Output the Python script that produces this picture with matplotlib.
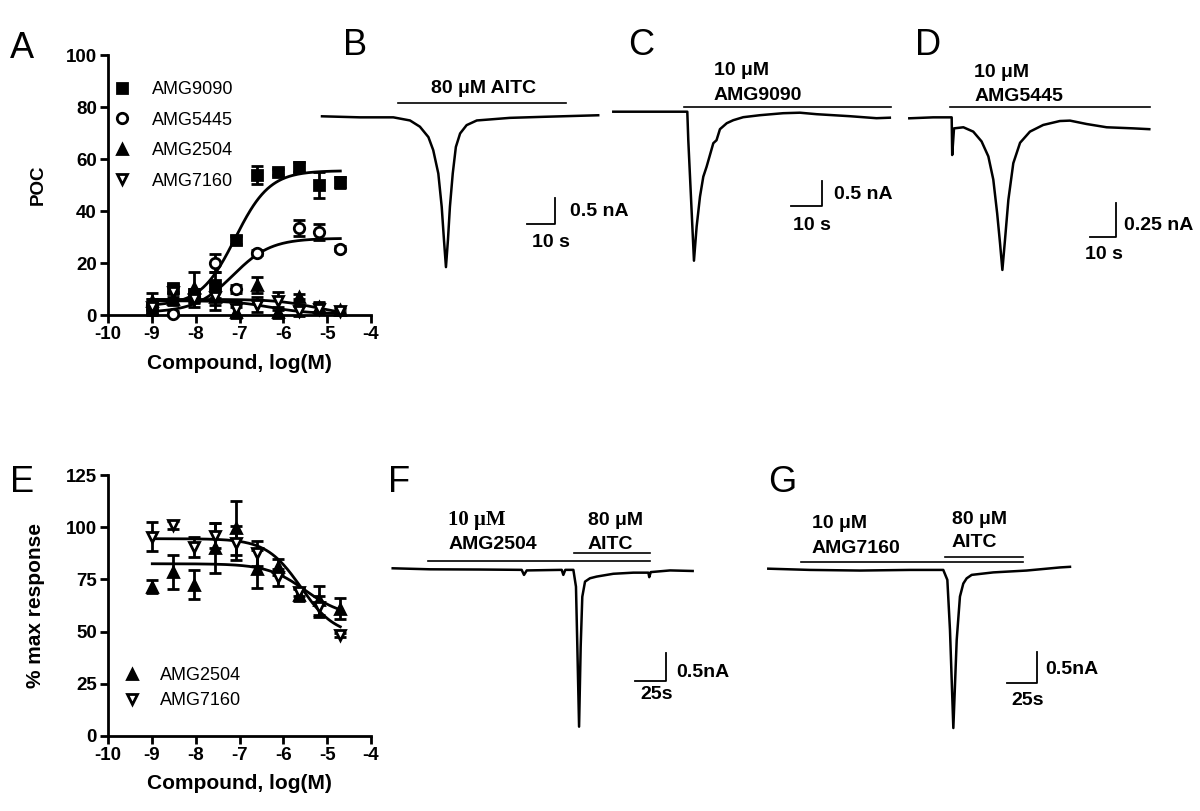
import matplotlib.pyplot as plt
import numpy as np

plt.rcParams['font.family'] = ['Liberation Sans', 'DejaVu Sans']
plt.rcParams['axes.unicode_minus'] = False

W, H = 1200, 811

# ---- concentration-response data (panels A and E) ----
log_conc = [-8.99, -8.51, -8.04, -7.56, -7.08, -6.61, -6.13, -5.65, -5.18, -4.70]

poc_9090 = [2.5, 10.5, 8, 11.5, 29, 54, 55, 57, 50, 51]
err_9090 = [2, 1.5, 2, 5, 1.5, 3.5, 1, 2, 5, 2]
poc_5445 = [4, 0.5, 7, 20, 10, 24, np.nan, 33.5, 32, 25.5]
err_5445 = [2, 1, 2, 3.5, 1.5, 1, 0, 3, 3, 1]
poc_2504 = [5.5, 6, 10.5, 7, 1, 11.5, 1, 7, 3, 2]
err_2504 = [3, 2, 6, 3, 2, 3, 2, 1, 2, 1]
poc_7160 = [3, 9, 6, 7, 2.5, 4, 5.5, 1.5, 2.5, 1.5]
err_7160 = [3, 2, 3, 5, 3, 3, 3.5, 2, 2, 1]

# fitted curves: (bottom, top, logEC50, hill)
fit_9090 = (3.5, 55.5, -7.1, 1.1)
fit_5445 = (1, 29.5, -7.15, 1.0)
fit_2504 = (0, 6, -5.3, -1.0)
fit_7160 = (0.5, 5.5, -6.3, -1.0)

resp_2504 = [71.5, 78.5, 72.5, 90, 99.5, 80, 81, 67.5, 65, 61]
rerr_2504 = [3, 8, 7, 12, 13, 9, 4, 3, 7, 5]
resp_7160 = [95.5, 101, 90.5, 96, 92.5, 87.5, 76, 69, 62, 48.5]
rerr_7160 = [7, 2, 5, 6, 8, 6, 4, 2, 5, 1]
rfit_2504 = (57, 82.5, -5.5, -1.0)
rfit_7160 = (48, 94.5, -5.6, -1.1)

# ---- current traces (time in s, current in nA) ----
B_t = [0, 13.4, 25.2, 31.1, 34.6, 37.6, 39.3, 41.1, 42.3, 43.1, 43.8, 44.5, 45.2,
       46.2, 47.3, 48.8, 51.1, 54.7, 59.4, 66.4, 78.2, 97.6]
B_i = [0, -0.02, -0.02, -0.08, -0.2, -0.4, -0.65, -1.1, -1.74, -2.38, -2.9, -2.38,
       -1.74, -1.1, -0.59, -0.33, -0.17, -0.08, -0.06, -0.03, -0.01, 0.02]

C_t = [0, 23.87, 24.19, 24.95, 26.02, 26.88, 27.96, 29.03, 30.1, 32.26, 33.3, 34.4,
       36.6, 38.7, 41.9, 47.3, 54.8, 60.2, 65.6, 76.3, 84.9, 89.2]
C_i = [0, 0, -0.57, -1.57, -2.98, -2.3, -1.7, -1.3, -1.1, -0.63, -0.57, -0.35,
       -0.23, -0.17, -0.11, -0.07, -0.03, -0.02, -0.05, -0.09, -0.13, -0.12]

D_t = [0, 9.2, 16.3, 16.5, 17.2, 20.8, 24.6, 27.8, 30.4, 32.3, 33.8, 34.9, 35.8,
       36.8, 38.1, 40.0, 42.6, 46.4, 51.5, 57.9, 61.8, 68.2, 75.9, 86.2, 92.3]
D_i = [0, 0.007, 0.007, -0.27, -0.074, -0.066, -0.098, -0.17, -0.28, -0.45, -0.7,
       -0.92, -1.115, -0.895, -0.6, -0.33, -0.18, -0.098, -0.049, -0.02, -0.017,
       -0.042, -0.066, -0.074, -0.08]

F_t = [0, 30.1, 70.4, 104, 105.9, 108.1, 136.3, 137.6, 139.2, 145.7, 147.8, 148.9,
       150.3, 151.6, 152.9, 155.1, 159.1, 164.5, 177.9, 194.1, 206.2, 206.9, 208.1,
       223.7, 241.9]
F_i = [0.018, 0, -0.004, -0.01, -0.1, -0.02, -0.01, -0.1, -0.01, -0.01, -0.31, -1.38,
       -2.81, -1.38, -0.49, -0.22, -0.16, -0.13, -0.08, -0.06, -0.06, -0.14, -0.05,
       -0.02, -0.03]

G_t = [0, 34.7, 76.4, 118.1, 145.8, 149.2, 151.4, 154.2, 157, 159.7, 162.5, 165.3,
       169.5, 187.5, 215.3, 232, 243, 251.4]
G_i = [0.01, -0.01, -0.02, -0.01, -0.01, -0.17, -0.98, -2.56, -1.14, -0.44, -0.23,
       -0.146, -0.09, -0.05, -0.02, 0.01, 0.03, 0.04]


def logistic(x, p):
    bottom, top, logec50, hill = p
    return bottom + (top - bottom) / (1 + 10 ** ((logec50 - x) * hill))


fig = plt.figure(figsize=(12, 8.11), dpi=100)


def style_axes(ax):
    for s in ['top', 'right']:
        ax.spines[s].set_visible(False)
    for s in ['left', 'bottom']:
        ax.spines[s].set_linewidth(2)
    ax.tick_params(direction='out', length=6, width=2, labelsize=13.5, pad=2)
    plt.setp(ax.get_xticklabels() + ax.get_yticklabels(), fontweight='bold')


def dose_series(ax, y, err, fit, marker, filled):
    eb = ax.errorbar(log_conc, y, yerr=err, fmt=marker, ms=7.5,
                     mfc='black' if filled else 'white', mec='black', mew=2,
                     ecolor='black', elinewidth=2, capsize=4, capthick=2, zorder=3)
    for a in [eb[0], *eb[1], *eb[2]]:
        a.set_clip_on(False)
    xs = np.linspace(log_conc[0], log_conc[-1], 200)
    ax.plot(xs, logistic(xs, fit), color='black', lw=2, zorder=2)
    return eb[0]


# ---- Panel A ----
axA = fig.add_axes([108 / W, 1 - 315 / H, 263 / W, 260 / H])
h1 = dose_series(axA, poc_9090, err_9090, fit_9090, 's', True)
h2 = dose_series(axA, poc_5445, err_5445, fit_5445, 'o', False)
h3 = dose_series(axA, poc_2504, err_2504, fit_2504, '^', True)
h4 = dose_series(axA, poc_7160, err_7160, fit_7160, 'v', False)
axA.set_xlim(-10, -4)
axA.set_ylim(0, 100)
axA.set_xticks(np.arange(-10, -3, 1))
axA.set_yticks(np.arange(0, 101, 20))
style_axes(axA)
axA.set_xlabel('Compound, log(M)', fontsize=15, fontweight='bold')
axA.xaxis.set_label_coords(0.5, -0.15)
axA.set_ylabel('POC', fontsize=13.5, fontweight='bold')
axA.yaxis.set_label_coords(-0.232, 0.5)
axA.legend([h1, h2, h3, h4], ['AMG9090', 'AMG5445', 'AMG2504', 'AMG7160'],
           loc='upper left', bbox_to_anchor=(0.019, 0.9), frameon=False,
           fontsize=13, handlelength=1.0, handletextpad=1.17, labelspacing=0.75,
           borderpad=0, borderaxespad=0)

# ---- Panel E ----
axE = fig.add_axes([108 / W, 1 - 736 / H, 263 / W, 261 / H])
e1 = dose_series(axE, resp_2504, rerr_2504, rfit_2504, '^', True)
e2 = dose_series(axE, resp_7160, rerr_7160, rfit_7160, 'v', False)
axE.set_xlim(-10, -4)
axE.set_ylim(0, 125)
axE.set_xticks(np.arange(-10, -3, 1))
axE.set_yticks(np.arange(0, 126, 25))
style_axes(axE)
axE.set_xlabel('Compound, log(M)', fontsize=15, fontweight='bold')
axE.xaxis.set_label_coords(0.5, -0.145)
axE.set_ylabel('% max response', fontsize=15, fontweight='bold')
axE.yaxis.set_label_coords(-0.24, 0.5)
axE.legend([e1, e2], ['AMG2504', 'AMG7160'], loc='upper left',
           bbox_to_anchor=(0.057, 0.265), frameon=False, fontsize=13,
           handlelength=1.0, handletextpad=1.06, labelspacing=0.45,
           borderpad=0, borderaxespad=0)


# ---- trace panels ----
def trace_axes(box, origin, scale):
    left, top, right, bottom = box
    x0, y0 = origin
    sx, sy = scale
    ax = fig.add_axes([left / W, 1 - bottom / H, (right - left) / W, (bottom - top) / H])
    ax.set_xlim((left - x0) / sx, (right - x0) / sx)
    ax.set_ylim((y0 - bottom) / sy, (y0 - top) / sy)
    ax.axis('off')
    return ax


def scale_bar(ax, t, i, dt, di, amp_lab, amp_pos, time_lab, time_pos):
    ax.plot([t, t + dt, t + dt], [i, i, i + di], color='black', lw=1.3)
    ax.text(*amp_pos, amp_lab, fontsize=14, fontweight='bold', ha='left', va='center')
    ax.text(*time_pos, time_lab, fontsize=14, fontweight='bold', ha='left', va='center')


tkw = dict(fontsize=14, fontweight='bold')
trace_lw = 1.8

# B
axB = trace_axes((310, 60, 610, 300), (322, 116.3), (2.83, 52))
axB.plot(B_t, B_i, color='black', lw=trace_lw)
axB.plot([27, 86.2], [0.26, 0.26], color='black', lw=1.2)
axB.text(57, 0.53, '80 μM AITC', ha='center', va='center', **tkw)
scale_bar(axB, 72.3, -2.08, 10, 0.5, '0.5 nA', (87.6, -1.84), '10 s', (74.1, -2.42))

# C
axC = trace_axes((600, 50, 905, 300), (613.3, 111.7), (3.1, 50))
axC.plot(C_t, C_i, color='black', lw=trace_lw)
axC.plot([22.8, 89.5], [0.09, 0.09], color='black', lw=1.2)
axC.text(32.5, 0.83, '10 μM', ha='left', va='center', **tkw)
axC.text(32.3, 0.33, 'AMG9090', ha='left', va='center', **tkw)
scale_bar(axC, 57.2, -1.88, 10, 0.5, '0.5 nA', (71.2, -1.65), '10 s', (58.1, -2.27))

# D
axD = trace_axes((900, 50, 1200, 300), (909.3, 118.3), (2.6, 136))
axD.plot(D_t, D_i, color='black', lw=trace_lw)
axD.plot([15.6, 92.6], [0.081, 0.081], color='black', lw=1.2)
axD.text(24.9, 0.34, '10 μM', ha='left', va='center', **tkw)
axD.text(24.9, 0.16, 'AMG5445', ha='left', va='center', **tkw)
scale_bar(axD, 69.5, -0.87, 10, 0.25, '0.25 nA', (82.6, -0.785), '10 s', (67.6, -1.005))

# F
axF = trace_axes((380, 490, 760, 770), (392.7, 569.3), (1.24, 56))
axF.plot(F_t, F_i, color='black', lw=trace_lw)
axF.plot([28.8, 207.5], [0.148, 0.148], color='black', lw=1.2)
axF.plot([146.2, 207.5], [0.297, 0.297], color='black', lw=1.2)
axF.text(44.9, 0.88, '10 μM', ha='left', va='center', fontsize=15,
         fontweight='bold', family=['Liberation Serif', 'DejaVu Serif'])
axF.text(44.9, 0.446, 'AMG2504', ha='left', va='center', **tkw)
axF.text(179.3, 0.88, '80 μM', ha='center', va='center', **tkw)
axF.text(175.3, 0.446, 'AITC', ha='center', va='center', **tkw)
scale_bar(axF, 195.4, -1.99, 25, 0.5, '0.5nA', (229, -1.85), '25s', (199.5, -2.24))

# G
axG = trace_axes((760, 490, 1100, 770), (768.3, 569.3), (1.2, 62))
axG.plot(G_t, G_i, color='black', lw=trace_lw)
axG.plot([26.9, 212.5], [0.12, 0.12], color='black', lw=1.2)
axG.plot([147.2, 212.5], [0.2, 0.2], color='black', lw=1.2)
axG.text(36.1, 0.74, '10 μM', ha='left', va='center', **tkw)
axG.text(36.1, 0.34, 'AMG7160', ha='left', va='center', **tkw)
axG.text(152.8, 0.81, '80 μM', ha='left', va='center', **tkw)
axG.text(152.8, 0.43, 'AITC', ha='left', va='center', **tkw)
scale_bar(axG, 198.6, -1.83, 25, 0.5, '0.5nA', (230.6, -1.62), '25s', (202.8, -2.11))

# panel letters
letters = ['A', 'B', 'C', 'D', 'E', 'F', 'G']
letter_px = [(10, 58), (343, 55), (628, 55), (915, 55), (10, 492), (388, 492), (768, 492)]
for lab, (px, py) in zip(letters, letter_px):
    fig.text(px / W, 1 - py / H, lab, fontsize=26, ha='left', va='baseline')

fig.savefig('out.png', dpi=100, facecolor='white')
